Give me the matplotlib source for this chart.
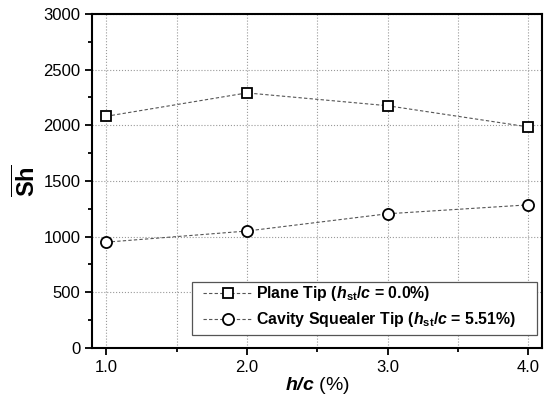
import numpy as np
import matplotlib
matplotlib.use('Agg')
import matplotlib.pyplot as plt
from matplotlib.ticker import MultipleLocator
from matplotlib.patches import Rectangle

plt.rcParams['font.family'] = ['Liberation Sans', 'DejaVu Sans']
plt.rcParams['mathtext.fontset'] = 'custom'
plt.rcParams['mathtext.rm'] = 'Liberation Sans'
plt.rcParams['mathtext.it'] = 'Liberation Sans:italic'
plt.rcParams['mathtext.bf'] = 'Liberation Sans:bold'
plt.rcParams['mathtext.bfit'] = 'Liberation Sans:italic:bold'

# data
h_c = [1.0, 2.0, 3.0, 4.0]
sh_plane = [2080, 2290, 2175, 1985]
sh_cavity = [950, 1050, 1205, 1285]
labels = [r'Plane Tip ($\mathbfit{h}_{\mathbf{st}}$/$\mathbfit{c}$ = 0.0%)',
          r'Cavity Squealer Tip ($\mathbfit{h}_{\mathbf{st}}$/$\mathbfit{c}$ = 5.51%)']

fig = plt.figure(figsize=(5.45, 3.95), dpi=100)
ax = fig.add_axes([0.169, 0.119, 0.826, 0.846])

ax.plot(h_c, sh_plane, ls=(0, (3, 2)), lw=0.8, color='#555555',
        marker='s', ms=7, mfc='white', mec='black', mew=1.3, label=labels[0])
ax.plot(h_c, sh_cavity, ls=(0, (3, 2)), lw=0.8, color='#555555',
        marker='o', ms=8, mfc='white', mec='black', mew=1.3, label=labels[1])

ax.set_xlim(0.9, 4.1)
ax.set_ylim(0, 3000)
ax.xaxis.set_major_locator(MultipleLocator(1.0))
ax.xaxis.set_minor_locator(MultipleLocator(0.5))
ax.yaxis.set_major_locator(MultipleLocator(500))
ax.yaxis.set_minor_locator(MultipleLocator(250))
ax.set_xticks(h_c)
ax.set_xticklabels(['1.0', '2.0', '3.0', '4.0'])

ax.grid(which='major', axis='both', ls=':', color='#999999', lw=0.8)
ax.grid(which='minor', axis='x', ls=':', color='#999999', lw=0.8)
ax.set_axisbelow(True)

ax.tick_params(which='major', direction='out', length=5, width=1.3, labelsize=12)
ax.tick_params(which='minor', direction='out', length=3, width=1.3)
for s in ax.spines.values():
    s.set_linewidth(1.5)

ax.set_xlabel(r'$\mathbfit{h/c}$ (%)', fontsize=14, labelpad=0)
ax.set_ylabel(r'$\overline{\mathbf{Sh}}$', fontsize=17, labelpad=2)

# legend box is wider on the right than the entries, so draw the frame separately
box = Rectangle((0.222, 0.039), 0.767, 0.159, transform=ax.transAxes,
                facecolor='white', edgecolor='#555555', lw=0.9, zorder=4)
ax.add_patch(box)
leg = ax.legend(loc='center left', prop={'weight': 'bold', 'size': 11.4},
                handlelength=3.1, handletextpad=0.25, frameon=False,
                borderpad=0, labelspacing=0.45, borderaxespad=0,
                bbox_to_anchor=(0.2467, 0.123))
leg.set_zorder(5)

fig.savefig('out.png', dpi=100)
